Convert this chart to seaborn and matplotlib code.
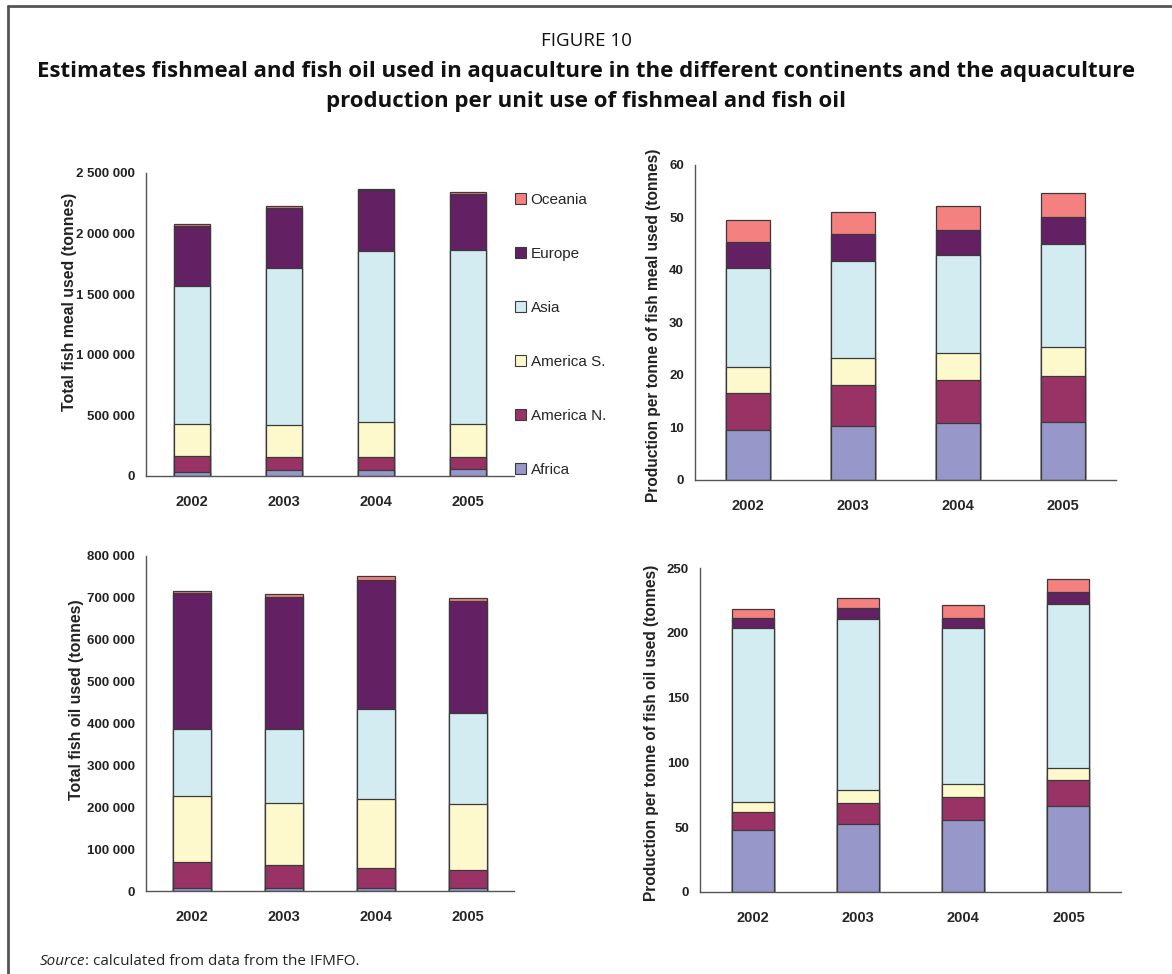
import matplotlib
matplotlib.use('Agg')
import matplotlib.pyplot as plt
from matplotlib.lines import Line2D
from matplotlib.patches import Patch
import seaborn as sns
import numpy as np
import pandas as pd

sns.set_style('white')
plt.rcParams['font.family'] = ['Liberation Sans', 'DejaVu Sans']

years = ['2002', '2003', '2004', '2005']
regions = ['Africa', 'America N.', 'America S.', 'Asia', 'Europe', 'Oceania']
colors = ['#9797c9', '#993366', '#fdf9cc', '#d3ecf2', '#632063', '#f48080']

# total fish meal used (tonnes)
meal_africa = [36000, 50000, 50000, 60000]
meal_am_n = [127000, 105000, 104000, 94000]
meal_am_s = [262000, 262000, 292000, 279000]
meal_asia = [1143000, 1296000, 1408000, 1430000]
meal_europe = [494000, 496000, 507000, 463000]
meal_oceania = [14000, 18000, 8000, 14000]

# production per tonne of fish meal used
pmeal_africa = [9.6, 10.2, 10.8, 11.0]
pmeal_am_n = [7.0, 7.9, 8.2, 8.9]
pmeal_am_s = [4.9, 5.1, 5.1, 5.4]
pmeal_asia = [18.9, 18.5, 18.7, 19.6]
pmeal_europe = [5.0, 5.1, 4.9, 5.1]
pmeal_oceania = [4.2, 4.2, 4.4, 4.7]

# total fish oil used (tonnes)
oil_africa = [8000, 8000, 8000, 8000]
oil_am_n = [61000, 53000, 47000, 41000]
oil_am_s = [159000, 149000, 164000, 158000]
oil_asia = [159000, 178000, 215000, 217000]
oil_europe = [324000, 314000, 308000, 269000]
oil_oceania = [5000, 6000, 10000, 6000]

# production per tonne of fish oil used
poil_africa = [47.7, 52.8, 55.4, 66.0]
poil_am_n = [14.4, 16.0, 18.1, 20.3]
poil_am_s = [7.7, 9.8, 9.5, 9.1]
poil_asia = [134.3, 132.0, 120.4, 126.8]
poil_europe = [7.5, 8.7, 8.2, 9.2]
poil_oceania = [6.7, 7.5, 9.8, 9.8]

panels = [
    ([meal_africa, meal_am_n, meal_am_s, meal_asia, meal_europe, meal_oceania],
     'Total fish meal used (tonnes)', 2500000, 500000,
     [0.1246, 0.5113, 0.314, 0.3111], (-0.188, 0.574), 0.40, 11.4),
    ([pmeal_africa, pmeal_am_n, pmeal_am_s, pmeal_asia, pmeal_europe, pmeal_oceania],
     'Production per tonne of fish meal used (tonnes)', 60, 10,
     [0.593, 0.5072, 0.3592, 0.3234], (-0.081, 0.49), 0.42, 11.2),
    ([oil_africa, oil_am_n, oil_am_s, oil_asia, oil_europe, oil_oceania],
     'Total fish oil used (tonnes)', 800000, 100000,
     [0.1246, 0.0852, 0.314, 0.344], (-0.169, 0.57), 0.42, 11.4),
    ([poil_africa, poil_am_n, poil_am_s, poil_asia, poil_europe, poil_oceania],
     'Production per tonne of fish oil used (tonnes)', 250, 50,
     [0.5973, 0.0842, 0.3592, 0.3326], (-0.098, 0.49), 0.40, 11.2),
]

fig = plt.figure(figsize=(11.72, 9.74), dpi=100)

for series, ylabel, ymax, step, rect, lab_xy, bw, lab_fs in panels:
    ax = fig.add_axes(rect)
    cum = np.cumsum(np.array(series), axis=0)
    # draw from the top layer down so lower layers sit on top
    for i in range(len(regions) - 1, -1, -1):
        df = pd.DataFrame({'year': years, 'value': cum[i]})
        sns.barplot(data=df, x='year', y='value', color=colors[i], width=bw,
                    saturation=1, edgecolor='#3a3a3a', linewidth=0.9, ax=ax)
    ax.set_xlim(-0.5, 3.5)
    ax.set_ylim(0, ymax)
    yt = np.arange(0, ymax + step / 2, step)
    ax.set_yticks(yt)
    if ymax > 1000:
        ax.set_yticklabels(['{:,}'.format(int(v)).replace(',', ' ') for v in yt])
    ax.set_xticks([-0.5, 0.5, 1.5, 2.5, 3.5])
    ax.set_xticklabels([])
    ax.set_xticks(range(4), minor=True)
    ax.set_xticklabels(years, minor=True, fontsize=10.5, fontweight='bold')
    ax.tick_params(axis='x', which='major', length=6, width=1, color='#555555', direction='out')
    ax.tick_params(axis='x', which='minor', length=0, pad=14)
    ax.tick_params(axis='y', length=5, width=1, color='#555555', direction='out',
                   labelsize=9.5, pad=3)
    for t in ax.get_yticklabels():
        t.set_fontweight('bold')
        t.set_color('#222222')
    ax.set_xlabel('')
    ax.set_ylabel(ylabel, fontsize=lab_fs, fontweight='bold', color='#222222')
    ax.yaxis.set_label_coords(*lab_xy)
    sns.despine(ax=ax)
    for s in ['left', 'bottom']:
        ax.spines[s].set_color('#555555')
        ax.spines[s].set_linewidth(1)

# legend beside the first panel
handles = [Patch(facecolor=colors[i], edgecolor='#3a3a3a', linewidth=0.8)
           for i in range(len(regions) - 1, -1, -1)]
labels = regions[::-1]
fig.legend(handles, labels, loc='upper left', bbox_to_anchor=(0.428, 0.816),
           frameon=False, fontsize=11, handlelength=0.7, handleheight=0.7,
           handletextpad=0.3, labelspacing=2.62)

title_font = ['Open Sans', 'DejaVu Sans']
fig.text(0.5, 0.958, 'FIGURE 10', ha='center', va='center', fontsize=13.5,
         family=title_font, color='#111111')
fig.text(0.5, 0.927, 'Estimates fishmeal and fish oil used in aquaculture in the different continents and the aquaculture',
         ha='center', va='center', fontsize=16, fontweight='bold',
         family=title_font, color='#111111')
fig.text(0.5, 0.896, 'production per unit use of fishmeal and fish oil',
         ha='center', va='center', fontsize=16, fontweight='bold',
         family=title_font, color='#111111')

src = fig.text(0.034, 0.013, 'Source', ha='left', va='center', fontsize=11,
               style='italic', family=title_font, color='#222222')
fig.canvas.draw()
bb = src.get_window_extent().transformed(fig.transFigure.inverted())
fig.text(bb.x1, 0.013, ': calculated from data from the IFMFO.', ha='left', va='center',
         fontsize=11, family=title_font, color='#222222')

# frame lines on the left and top
fig.add_artist(Line2D([8 / 1172, 8 / 1172], [0, 1 - 6 / 974], transform=fig.transFigure,
                      color='#555555', linewidth=2))
fig.add_artist(Line2D([8 / 1172, 1], [1 - 6 / 974, 1 - 6 / 974], transform=fig.transFigure,
                      color='#555555', linewidth=2))

fig.savefig('out.png', dpi=100)
